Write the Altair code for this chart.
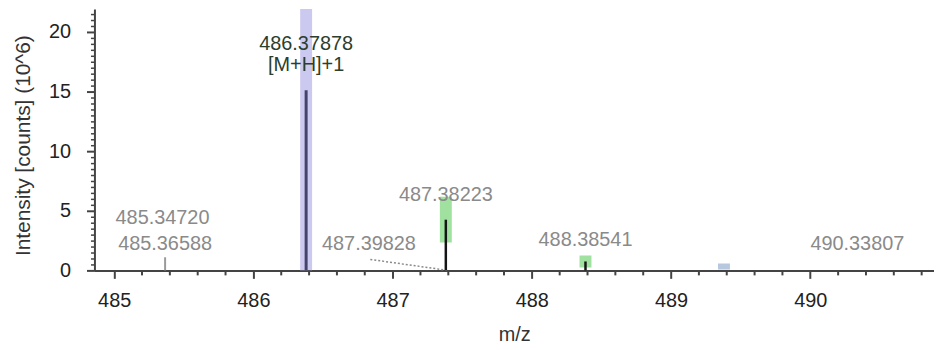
import altair as alt
import pandas as pd

# centroid sticks (m/z, intensity in 10^6 counts)
stick_mz = [485.36588, 486.37878, 487.38223, 488.38541]
stick_int = [1.1, 15.1, 4.25, 0.75]
stick_kind = ["minor", "main", "isotope", "isotope"]

# isotope pattern boxes
box_mz = [486.37878, 487.38223, 488.38541, 489.38]
box_lo = [0.0, 2.33, 0.25, 0.08]
box_hi = [23.0, 6.17, 1.25, 0.58]
box_kind = ["mono", "matched", "matched", "unmatched"]

# peak annotations
label_text = ["485.34720", "485.36588", "486.37878", "[M+H]+1",
              "487.38223", "487.39828", "488.38541", "490.33807"]
label_x = [485.34720, 485.36588, 486.37878, 486.37878,
           487.38223, 486.83, 488.38541, 490.33807]
label_y = [4.42, 2.17, 19.0, 17.17, 6.33, 2.17, 2.58, 2.17]
label_kind = ["other", "other", "main", "main", "other", "other", "other", "other"]

# leader line from the 487.39828 label to its peak
lead_x = [486.84]
lead_y = [0.92]
lead_x2 = [487.39828]
lead_y2 = [0.0]

# axis ticks
x_major = [485, 486, 487, 488, 489, 490]
x_minor = [485.2, 485.4, 485.6, 485.8, 486.2, 486.4, 486.6, 486.8,
           487.2, 487.4, 487.6, 487.8, 488.2, 488.4, 488.6, 488.8,
           489.2, 489.4, 489.6, 489.8, 490.2, 490.4, 490.6, 490.8]
y_major = [0, 5, 10, 15, 20]
y_minor = [0.5, 1, 1.5, 2, 2.5, 3, 3.5, 4, 4.5, 5.5, 6, 6.5, 7, 7.5, 8, 8.5, 9, 9.5,
           10.5, 11, 11.5, 12, 12.5, 13, 13.5, 14, 14.5, 15.5, 16, 16.5, 17, 17.5,
           18, 18.5, 19, 19.5, 20.5, 21, 21.5]

sticks = pd.DataFrame({"mz": stick_mz, "inten": stick_int, "kind": stick_kind})
boxes = pd.DataFrame({"mz": box_mz, "lo": box_lo, "hi": box_hi, "kind": box_kind})
labels = pd.DataFrame({"x": label_x, "y": label_y, "text": label_text, "kind": label_kind})
leads = pd.DataFrame({"x": lead_x, "y": lead_y, "x2": lead_x2, "y2": lead_y2})
xminor_df = pd.DataFrame({"v": x_minor})

FONT = "Liberation Sans"
AXC = "#444444"
W, H = 845, 263

xscale = alt.Scale(domain=[484.894, 490.853], nice=False, zero=False)
yscale = alt.Scale(domain=[0, 21.9], nice=False)

xaxis = alt.Axis(
    orient="bottom",
    values=x_major,
    format="d",
    labelOverlap=False,
    labelFlush=False,
    tickSize=8,
    labelFontSize=20,
    labelFont=FONT,
    labelColor="#222222",
    labelPadding=12,
    domainColor=AXC,
    domainWidth=2,
    tickColor=AXC,
    tickWidth=2,
    grid=False,
    title="m/z",
    titleFont=FONT,
    titleFontSize=20,
    titleFontWeight="normal",
    titleColor="#333333",
    titleY=65,
    titleBaseline="middle",
)

yaxis = alt.Axis(
    orient="left",
    values=y_major,
    format="d",
    labelOverlap=False,
    labelFlush=False,
    tickSize=8,
    labelFontSize=20,
    labelFont=FONT,
    labelColor="#222222",
    labelPadding=16,
    domainColor=AXC,
    domainWidth=2,
    tickColor=AXC,
    tickWidth=2,
    grid=False,
    title="Intensity [counts] (10^6)",
    titleFont=FONT,
    titleFontSize=21,
    titleFontWeight="normal",
    titleColor="#333333",
    titleX=-71,
    titleY=137,
    titleBaseline="middle",
)

yaxis_minor = alt.Axis(
    orient="left",
    offset=0,
    values=y_minor,
    labels=False,
    domain=False,
    tickSize=4,
    tickColor=AXC,
    tickWidth=1.5,
    grid=False,
    title=None,
)

box_layer = alt.Chart(boxes).mark_bar(size=12, clip=True, opacity=0.85).encode(
    x=alt.X("mz:Q", scale=xscale, axis=xaxis),
    y=alt.Y("lo:Q", scale=yscale, axis=yaxis),
    y2="hi:Q",
    color=alt.Color("kind:N", legend=None,
                    scale=alt.Scale(domain=["mono", "matched", "unmatched"],
                                    range=["#c3c0ef", "#8fdc8f", "#a9bdd8"])),
)

lead_layer = alt.Chart(leads).mark_rule(strokeDash=[2, 2], color="#8a8a8a", strokeWidth=1.5).encode(
    x=alt.X("x:Q", scale=xscale, axis=None),
    y=alt.Y("y:Q", scale=yscale, axis=None),
    x2="x2:Q",
    y2="y2:Q",
)

stick_layer = alt.Chart(sticks).mark_rule().encode(
    x=alt.X("mz:Q", scale=xscale, axis=None),
    y=alt.Y("inten:Q", scale=yscale, axis=yaxis_minor),
    y2=alt.datum(0),
    color=alt.Color("kind:N", legend=None,
                    scale=alt.Scale(domain=["main", "isotope", "minor"],
                                    range=["#44446a", "#151515", "#9a9a9a"])),
    size=alt.Size("kind:N", legend=None,
                  scale=alt.Scale(domain=["main", "isotope", "minor"], range=[3, 2, 1])),
)

# minor ticks along the m/z axis
xminor_layer = alt.Chart(xminor_df).mark_rule(color=AXC, strokeWidth=2).encode(
    x=alt.X("v:Q", scale=xscale, axis=None),
    y=alt.value(H),
    y2=alt.value(H + 5),
)

text_layer = alt.Chart(labels).mark_text(font=FONT, fontSize=20, baseline="middle", align="center").encode(
    x=alt.X("x:Q", scale=xscale, axis=None),
    y=alt.Y("y:Q", scale=yscale, axis=None),
    text="text:N",
    color=alt.Color("kind:N", legend=None,
                    scale=alt.Scale(domain=["main", "other"], range=["#2c3e2c", "#8a8a8a"])),
)

chart = alt.layer(box_layer, lead_layer, stick_layer, xminor_layer, text_layer).resolve_scale(
    color="independent", size="independent"
).resolve_axis(
    x="independent", y="independent"
).properties(
    width=W,
    height=H,
    autosize=alt.AutoSizeParams(type="none"),
    padding={"left": 87, "top": 0, "right": 0, "bottom": 78},
    background="white",
).configure_view(stroke=None)

chart.save("out.html", embed_options={"renderer": "svg", "actions": False})
